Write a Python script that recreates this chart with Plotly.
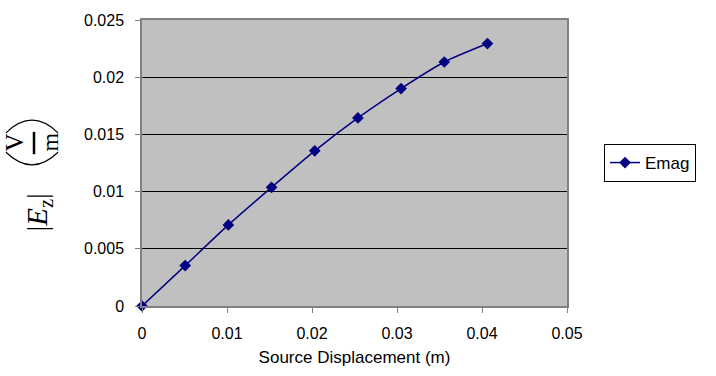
import plotly.graph_objects as go

# Data
displacement = [0, 0.00508, 0.01016, 0.01524, 0.02032, 0.0254, 0.03048, 0.03556, 0.04064]
emag = [0, 0.00353, 0.00709, 0.01037, 0.01356, 0.01644, 0.01901, 0.02133, 0.02294]
series_name = "Emag"
x_title = "Source Displacement (m)"

W, H = 716, 376
L, R, T, B = 142, 149, 12, 70
PW, PH = W - L - R, H - T - B


def px(x):
    return (x - L) / PW


def py(y):
    return 1 - (y - T) / PH


fig = go.Figure()
fig.add_trace(go.Scatter(
    x=displacement, y=emag, name=series_name, mode="lines+markers",
    line=dict(color="#000080", width=1.5, shape="spline", smoothing=0.6),
    marker=dict(symbol="diamond", size=9, color="#000080"),
    cliponaxis=False,
))

serif = "Liberation Serif"
annots = [
    dict(text="|<i>E</i><sub>z</sub>|", x=px(39), y=py(210), font=dict(family=serif, size=29, color="black")),
    dict(text="V", x=px(15), y=py(138), font=dict(family=serif, size=25, color="black")),
    dict(text="m", x=px(50), y=py(138), font=dict(family=serif, size=24, color="black")),
]
for a in annots:
    a.update(xref="paper", yref="paper", xanchor="center", yanchor="middle",
             showarrow=False, textangle=-90)


def path(p0, c, p1):
    return "M {},{} Q {},{} {},{}".format(px(p0[0]), py(p0[1]), px(c[0]), py(c[1]), px(p1[0]), py(p1[1]))


shapes = [
    dict(type="line", xref="paper", yref="paper", x0=px(34), x1=px(34), y0=py(127), y1=py(150),
         line=dict(color="black", width=2.5)),
    dict(type="path", xref="paper", yref="paper", path=path((6, 148), (32, 174), (58, 148)),
         line=dict(color="black", width=1.2)),
    dict(type="path", xref="paper", yref="paper", path=path((6, 128), (32, 102), (58, 128)),
         line=dict(color="black", width=1.2)),
]

font_sans = "Liberation Sans"
fig.update_layout(
    width=W, height=H,
    margin=dict(l=L, r=R, t=T, b=B, pad=0),
    paper_bgcolor="white", plot_bgcolor="#C0C0C0",
    font=dict(family=font_sans, size=16, color="black"),
    showlegend=True,
    legend=dict(x=px(604), y=py(159), xanchor="left", yanchor="middle",
                bordercolor="black", borderwidth=1, bgcolor="white",
                font=dict(family=font_sans, size=17, color="black")),
    annotations=annots, shapes=shapes,
    xaxis=dict(range=[0, 0.05], dtick=0.01, tick0=0, showgrid=False, zeroline=False,
               showline=True, linecolor="#808080", linewidth=1.5, mirror=True,
               ticks="outside", ticklen=5, tickcolor="#808080",
               tickfont=dict(size=16), ticklabelstandoff=7,
               title=dict(text=x_title, font=dict(size=17), standoff=10)),
    yaxis=dict(range=[0, 0.025], dtick=0.005, tick0=0, showgrid=True, gridcolor="black",
               gridwidth=1, zeroline=False,
               showline=True, linecolor="#808080", linewidth=1.5, mirror=True,
               ticks="outside", ticklen=5, tickcolor="#808080",
               tickfont=dict(size=16), ticklabelstandoff=8),
)

fig.write_html("out.html")
